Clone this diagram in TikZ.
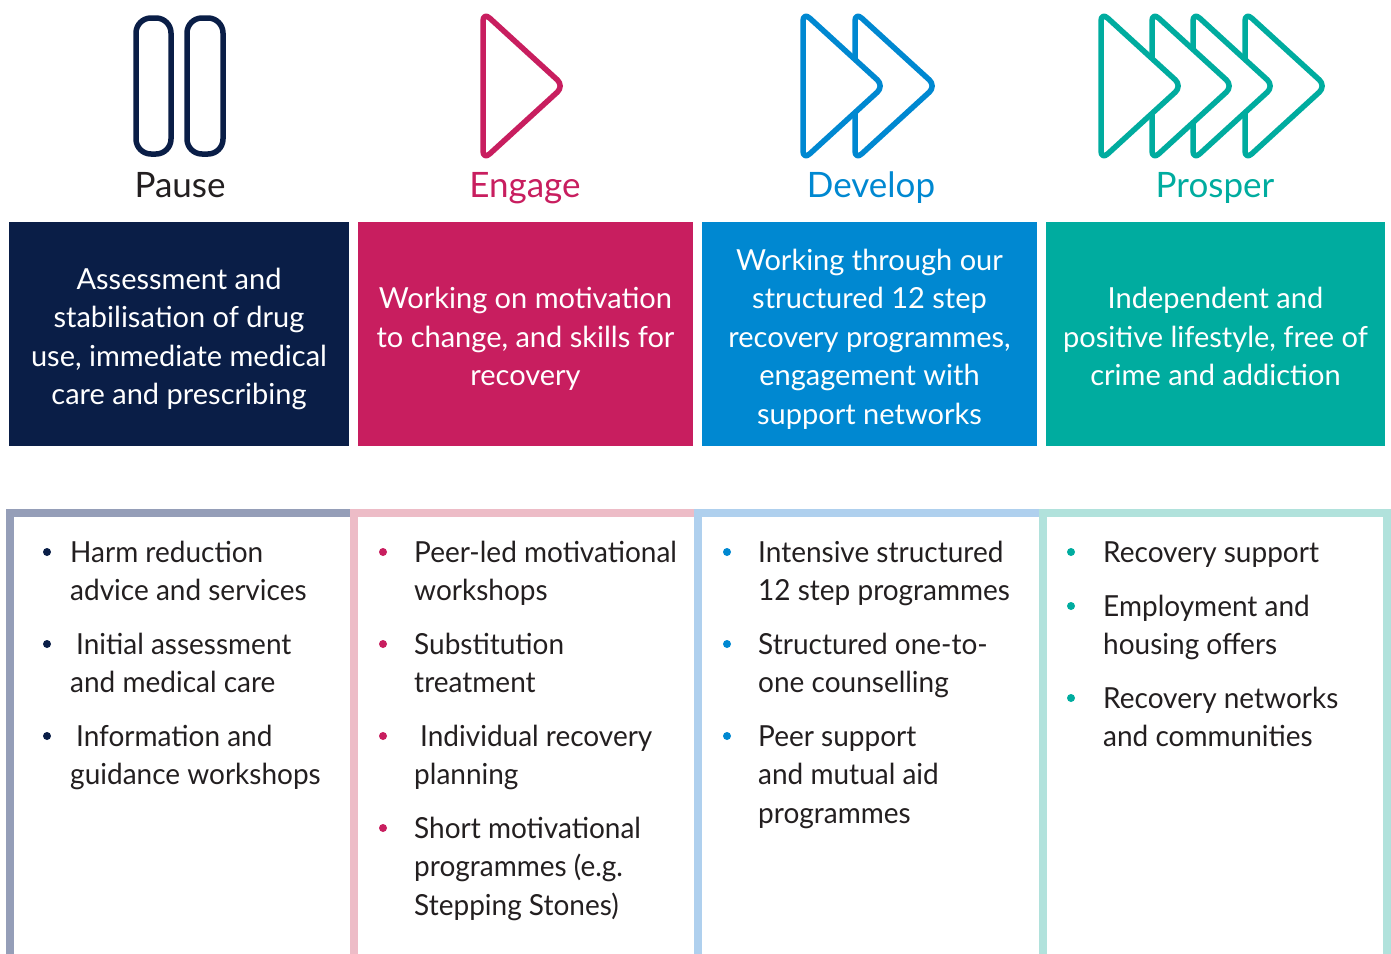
\documentclass[tikz,border=0pt]{standalone}
\usepackage{fontspec}
\setmainfont{Lato}
\newfontfamily\listfont{Lato}[FakeStretch=0.965]
\definecolor{cnavy}{HTML}{0A1E47}
\definecolor{cpink}{HTML}{C81E5F}
\definecolor{cblue}{HTML}{0088D1}
\definecolor{cteal}{HTML}{00AC9F}
\definecolor{lnavy}{HTML}{959EB8}
\definecolor{lpink}{HTML}{EDBCC7}
\definecolor{lblue}{HTML}{AFD0EE}
\definecolor{lteal}{HTML}{B1E2DC}
\definecolor{ctext}{HTML}{231F20}
\tikzset{
  topbox/.style={rectangle, inner sep=0, minimum height=224},
  toptext/.style={inner sep=0, text=white, align=center,
    font=\fontsize{29}{38.5}\selectfont},
  heading/.style={anchor=base, inner sep=0, font=\fontsize{35}{40}\selectfont},
  item/.style={anchor=base west, inner sep=0, align=left, text=ctext,
    font=\listfont\fontsize{29}{38.5}\selectfont},
  dot/.style={circle, fill=#1, inner sep=0, minimum size=8},
  frame/.style={draw=#1, line width=8},
  icon/.style={draw=#1, line width=5.5, rounded corners=9, line join=round},
  tri/.style={icon=#1, fill=white},
}
\begin{document}
\begin{tikzpicture}[x=1pt, y=-1pt]
\useasboundingbox (0,0) rectangle (1391,953);
% icons
\draw[icon=cnavy, rounded corners=15] (136,18) rectangle (171,154);
\draw[icon=cnavy, rounded corners=15] (187,18) rectangle (223,154);
\draw[tri=cpink] (483,12) -- (564,86) -- (483,160) -- cycle;
\foreach \x in {855,803}{
  \draw[tri=cblue] (\x,12) -- (\x+81,86) -- (\x,160) -- cycle;}
\foreach \x in {1245,1193,1152,1101}{
  \draw[tri=cteal] (\x,12) -- (\x+81,86) -- (\x,160) -- cycle;}
% headings
\node[heading, text=ctext] (h1) at (180,197) {Pause};
\node[heading, text=cpink] (h2) at (525,197) {Engage};
\node[heading, text=cblue] (h3) at (871,197) {Develop};
\node[heading, text=cteal] (h4) at (1215,197) {Prosper};
% top boxes
\node[topbox, fill=cnavy, minimum width=340] (t1) at (179,334) {};
\node[topbox, fill=cpink, minimum width=335] (t2) at (525.5,334) {};
\node[topbox, fill=cblue, minimum width=335] (t3) at (869.5,334) {};
\node[topbox, fill=cteal, minimum width=339] (t4) at (1215.5,334) {};
\node[toptext] (x1) at ([yshift=-5pt]t1.center)
  {Assessment and\\stabilisation of drug\\use, immediate medical\\care and prescribing};
\node[toptext] (x2) at ([yshift=-5pt]t2.center)
  {Working on motivation\\to change, and skills for\\recovery};
\node[toptext] (x3) at ([yshift=-5pt]t3.center)
  {Working through our\\structured 12 step\\recovery programmes,\\engagement with\\support networks};
\node[toptext] (x4) at ([yshift=-5pt]t4.center)
  {Independent and\\positive lifestyle, free of\\crime and addiction\vphantom{g}};
% frames
\draw[frame=lnavy] (9.5,960) -- (9.5,513) -- (354,513);
\draw[frame=lpink] (354,960) -- (354,513) -- (698,513);
\draw[frame=lblue] (698,960) -- (698,513) -- (1043,513);
\draw[frame=lteal] (1043,960) -- (1043,513) -- (1387,513) -- (1387,960);
% column 1
\node[dot=cnavy] (b11) at (47,552) {};
\node[item] (i11) at (70,600.5) {Harm reduction\\advice and services};
\node[dot=cnavy] (b12) at (47,644) {};
\node[item] (i12) at (70,692.5) {\hspace*{6pt}Initial assessment\\and medical care};
\node[dot=cnavy] (b13) at (47,736) {};
\node[item] (i13) at (70,784.5) {\hspace*{6pt}Information and\\guidance workshops};
% column 2
\node[dot=cpink] (b21) at (383,552) {};
\node[item] (i21) at (414,600.5) {Peer-led motivational\\workshops};
\node[dot=cpink] (b22) at (383,644) {};
\node[item] (i22) at (414,692.5) {Substitution\\treatment};
\node[dot=cpink] (b23) at (383,736) {};
\node[item] (i23) at (414,784.5) {\hspace*{6pt}Individual recovery\\planning};
\node[dot=cpink] (b24) at (383,828) {};
\node[item] (i24) at (414,915) {Short motivational\\programmes (e.g.\\Stepping Stones)};
% column 3
\node[dot=cblue] (b31) at (727,552) {};
\node[item] (i31) at (758,600.5) {Intensive structured\\12 step programmes};
\node[dot=cblue] (b32) at (727,644) {};
\node[item] (i32) at (758,692.5) {Structured one-to-\\one counselling};
\node[dot=cblue] (b33) at (727,736) {};
\node[item] (i33) at (758,823) {Peer support\\and mutual aid\\programmes};
% column 4
\node[dot=cteal] (b41) at (1071,552) {};
\node[item] (i41) at (1103,562) {Recovery support};
\node[dot=cteal] (b42) at (1071,606) {};
\node[item] (i42) at (1103,654.5) {Employment and\\housing offers};
\node[dot=cteal] (b43) at (1071,698) {};
\node[item] (i43) at (1103,746.5) {Recovery networks\\and communities};
\end{tikzpicture}
\end{document}
